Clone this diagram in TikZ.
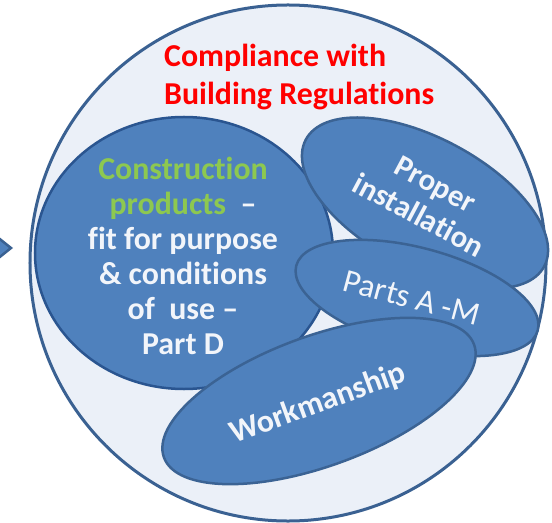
\documentclass[tikz,border=0pt]{standalone}
\usepackage{fontspec}
\setmainfont{Carlito}[Ligatures={NoCommon}]
\usepackage{tikz}
\usetikzlibrary{shapes.geometric}
\usetikzlibrary{positioning}
\definecolor{ringfill}{HTML}{EBF0F8}
\definecolor{ringline}{HTML}{3A6192}
\definecolor{bubblefill}{HTML}{4F81BD}
\definecolor{bubbleline}{HTML}{3B6394}
\definecolor{consline}{HTML}{2A5590}
\definecolor{labelwhite}{HTML}{F2F5FA}
\definecolor{prodgreen}{HTML}{8DC850}
\tikzstyle{bubble} = [ellipse, draw=bubbleline, fill=bubblefill, line width=2.5bp, inner sep=0pt]
\tikzstyle{lbl} = [text=labelwhite, align=center, inner sep=0pt]
\tikzstyle{arrowbit} = [draw=ringline, fill=bubblefill, line width=2.5bp, line join=miter]

\begin{document}
\begin{tikzpicture}[x=1bp, y=-1bp]
\useasboundingbox (0,0) rectangle (552,523);
\draw[arrowbit] (-4,236) -- (11,248) -- (-4,260) -- cycle;
\node[circle, draw=ringline, fill=ringfill, line width=3bp, minimum size=516bp, inner sep=0pt] (ring) at (288,263) {};
\node[anchor=west, align=left, inner sep=0pt, text=red, font=\fontsize{32}{39}\selectfont\bfseries] (title) at (164,77) {Compliance with\\Building Regulations};
% products
\node[bubble, draw=consline, minimum width=298bp, minimum height=272bp] (cons) at (184,253) {};
\node[lbl, font=\fontsize{32}{35}\selectfont\bfseries] (consT) at (183,256) {\textcolor{prodgreen}{Construction}\\\textcolor{prodgreen}{products}\ \ --\\fit for purpose\\\& conditions\\of\ \ use --\\Part D};
% installation
\node[bubble, minimum width=270bp, minimum height=130bp, rotate=-28] (inst) at (425,203) {};
\node[lbl, rotate=-28, font=\fontsize{31}{35}\selectfont\bfseries] (instT) at (427,200) {Proper\\installation};
% parts
\node[bubble, minimum width=250bp, minimum height=100bp, rotate=-15] (parts) at (417,298) {};
\node[lbl, rotate=-15, font=\fontsize{33}{36}\selectfont] (partsT) at (412,298) {Parts A -M};
% workmanship
\node[bubble, minimum width=330bp, minimum height=130bp, rotate=20] (work) at (319,401) {};
\node[lbl, rotate=20, font=\fontsize{32}{35}\selectfont\bfseries] (workT) at (318,404) {Workmanship};
\end{tikzpicture}
\end{document}
